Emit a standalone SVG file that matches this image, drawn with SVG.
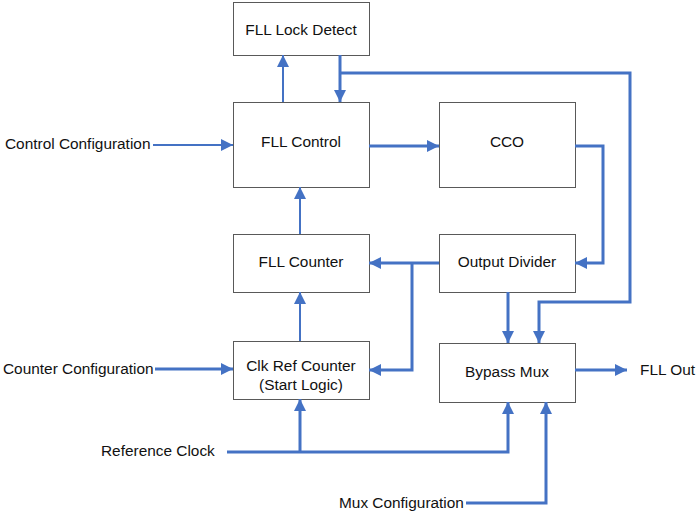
<svg xmlns="http://www.w3.org/2000/svg" width="700" height="511" viewBox="0 0 700 511">
<style>
.box{fill:#fff;stroke:#595959;stroke-width:1}
.t{font-family:"Liberation Sans",Arial,sans-serif;font-size:15.4px;fill:#111}
.c{text-anchor:middle}
.w{fill:none;stroke:#4472C4;stroke-width:3}
.n{fill:none;stroke:#4472C4;stroke-width:2}
</style>
<defs>
<marker id="a" viewBox="0 0 12 12" refX="12" refY="6" markerWidth="12" markerHeight="12" markerUnits="userSpaceOnUse" orient="auto">
<path d="M0,0 L12,6 L0,12 Z" fill="#4472C4"/>
</marker>
</defs>
<rect width="700" height="511" fill="#fff"/>
<g id="lock"><rect class="box" x="233.5" y="2.5" width="136" height="53"/><text class="t c" x="301" y="35">FLL Lock Detect</text></g>
<g id="control"><rect class="box" x="233.5" y="102.5" width="136" height="85"/><text class="t c" x="301" y="147">FLL Control</text></g>
<g id="cco"><rect class="box" x="439.5" y="102.5" width="136" height="85"/><text class="t c" x="507" y="147">CCO</text></g>
<g id="counter"><rect class="box" x="233.5" y="234.5" width="136" height="58"/><text class="t c" x="301" y="267">FLL Counter</text></g>
<g id="divider"><rect class="box" x="439.5" y="234.5" width="136" height="58"/><text class="t c" x="507" y="267">Output Divider</text></g>
<g id="clkref"><rect class="box" x="233.5" y="341.5" width="136" height="58"/><text class="t c" x="301" y="371">Clk Ref Counter</text><text class="t c" x="301" y="390">(Start Logic)</text></g>
<g id="mux"><rect class="box" x="439.5" y="343.5" width="136" height="59"/><text class="t c" x="507" y="377">Bypass Mux</text></g>
<g id="labels">
<text class="t" x="5" y="149">Control Configuration</text>
<text class="t" x="3" y="374">Counter Configuration</text>
<text class="t" x="101" y="456">Reference Clock</text>
<text class="t" x="339" y="508">Mux Configuration</text>
<text class="t" x="640" y="375">FLL Out</text>
</g>
<g id="connectors">
<path class="n" d="M283,102 V55" marker-end="url(#a)"/>
<path class="w" d="M340,55 V102" marker-end="url(#a)"/>
<path class="w" d="M340,73 H630 V302 H539 V343" marker-end="url(#a)"/>
<path class="w" d="M369,146 H439" marker-end="url(#a)"/>
<path class="w" d="M575,146 H603 V263 H575" marker-end="url(#a)"/>
<path class="w" d="M439,263 H369" marker-end="url(#a)"/>
<path class="w" d="M412,263 V370 H369" marker-end="url(#a)"/>
<path class="w" d="M508,292 V343" marker-end="url(#a)"/>
<path class="n" d="M300,341 V292" marker-end="url(#a)"/>
<path class="n" d="M300,234 V187" marker-end="url(#a)"/>
<path class="n" d="M153,145 H233" marker-end="url(#a)"/>
<path class="w" d="M155,369 H233" marker-end="url(#a)"/>
<path class="w" d="M227,452 H508 V402" marker-end="url(#a)"/>
<path class="w" d="M300,452 V399" marker-end="url(#a)"/>
<path class="w" d="M466,503 H546 V402" marker-end="url(#a)"/>
<path class="w" d="M575,370 H627" marker-end="url(#a)"/>
</g>
</svg>
